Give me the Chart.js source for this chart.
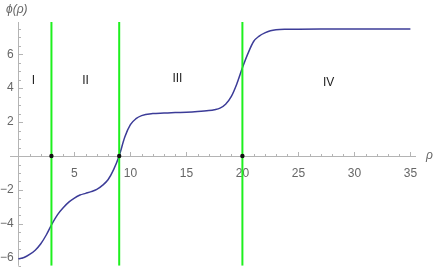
<!DOCTYPE html>
<html>
<head>
<meta charset="utf-8">
<script src="https://cdn.jsdelivr.net/npm/chart.js@4.4.1/dist/chart.umd.min.js"></script>
<style>
  html, body { margin: 0; padding: 0; background: #fff; }
  canvas { display: block; }
</style>
</head>
<body>
<canvas id="chart" width="436" height="276"></canvas>
<script>
// curve phi(rho)
const rho = [0, 0.5, 1, 1.5, 2, 2.5, 3, 3.5, 4, 4.5, 5, 5.5, 6, 6.5, 7, 7.5, 8, 8.5, 9, 9.5,
  10, 10.5, 11, 12, 13, 14, 15, 16, 17, 17.5, 18, 18.5, 19, 19.5, 20, 20.5, 21, 21.5, 22, 22.5,
  23, 24, 25, 27, 30, 35];
const phi = [-6.06, -5.98, -5.8, -5.55, -5.17, -4.64, -4.0, -3.45, -3.05, -2.72, -2.48, -2.3, -2.2, -2.1, -1.97, -1.73, -1.4, -0.8, 0.02, 1.12,
  1.85, 2.2, 2.38, 2.5, 2.53, 2.56, 2.58, 2.62, 2.68, 2.73, 2.82, 3.05, 3.5, 4.25, 5.2, 6.05, 6.75, 7.07, 7.26, 7.38,
  7.44, 7.47, 7.48, 7.49, 7.49, 7.49];

// region boundaries (green lines + black dots on the axis)
const boundaryRho = [2.95, 9, 20];

// region labels
const regionNames = ['I', 'II', 'III', 'IV'];
const regionRho = [1.35, 6.0, 14.2, 27.7];
const regionPhi = [4.45, 4.45, 4.55, 4.3];

// tick labels
const xTicks = [5, 10, 15, 20, 25, 30, 35];
const yTicks = [-6, -4, -2, 2, 4, 6];

const xRange = [-0.75, 35.5];
const yRange = [-6.47, 7.9];

const axisGray = '#b4b4b4';
const labelGray = '#666666';

const decor = {
  id: 'decor',
  beforeDatasetsDraw(chart) {
    const { ctx, scales: { x, y } } = chart;
    const x0 = Math.round(x.getPixelForValue(0)) + 0.5;
    const y0 = Math.round(y.getPixelForValue(0)) + 0.5;
    ctx.save();
    ctx.strokeStyle = axisGray;
    ctx.lineWidth = 1;
    ctx.beginPath();
    ctx.moveTo(x.left, y0); ctx.lineTo(x.right, y0);
    ctx.moveTo(x0, y.top); ctx.lineTo(x0, y.bottom);
    // minor / major tick marks, pointing into the plot
    for (let v = 1; v <= x.max; v += 1) {
      const px = Math.round(x.getPixelForValue(v)) + 0.5;
      const len = v % 5 === 0 ? 4.5 : 2.5;
      ctx.moveTo(px, y0); ctx.lineTo(px, y0 - len);
    }
    for (let v = -6.5; v <= y.max; v += 0.5) {
      if (v === 0) continue;
      const py = Math.round(y.getPixelForValue(v)) + 0.5;
      const len = v % 2 === 0 ? 4.5 : 2.5;
      ctx.moveTo(x0, py); ctx.lineTo(x0 + len, py);
    }
    ctx.stroke();
    ctx.restore();
  },
  afterDraw(chart) {
    const { ctx, scales: { x, y } } = chart;
    ctx.save();
    ctx.fillStyle = '#222';
    ctx.font = '12px "Liberation Sans", Arial, sans-serif';
    ctx.textAlign = 'center';
    ctx.textBaseline = 'middle';
    regionNames.forEach((name, i) => {
      ctx.fillText(name, x.getPixelForValue(regionRho[i]), y.getPixelForValue(regionPhi[i]));
    });
    ctx.fillStyle = labelGray;
    ctx.font = 'italic 12px "Liberation Sans", Arial, sans-serif';
    ctx.textAlign = 'left';
    ctx.fillText('\u03d5(\u03c1)', 6, 10);
    ctx.fillText('\u03c1', x.right + 10, y.getPixelForValue(0));
    ctx.restore();
  }
};

new Chart(document.getElementById('chart'), {
  type: 'scatter',
  data: {
    datasets: [
      {
        data: boundaryRho.map(r => ({ x: r, y: 0 })),
        pointRadius: 2.2,
        pointBackgroundColor: '#111',
        pointBorderWidth: 0,
        showLine: false,
        order: 0
      },
      ...boundaryRho.map(r => ({
        data: [{ x: r, y: yRange[0] }, { x: r, y: yRange[1] }],
        showLine: true,
        borderColor: '#1ef01e',
        borderWidth: 2,
        pointRadius: 0,
        order: 1
      })),
      {
        data: rho.map((r, i) => ({ x: r, y: phi[i] })),
        showLine: true,
        borderColor: '#3c3c98',
        borderWidth: 1.5,
        pointRadius: 0,
        cubicInterpolationMode: 'monotone',
        order: 2
      }
    ]
  },
  options: {
    responsive: false,
    animation: false,
    devicePixelRatio: 1,
    layout: { padding: { left: 10, right: 20, top: 22, bottom: 4 } },
    plugins: { legend: { display: false }, tooltip: { enabled: false } },
    scales: {
      x: {
        type: 'linear',
        min: xRange[0],
        max: xRange[1],
        position: { y: 0 },
        grid: { display: false, drawTicks: false },
        border: { display: false },
        afterBuildTicks: s => { s.ticks = xTicks.map(v => ({ value: v })); },
        ticks: {
          color: labelGray,
          padding: 10,
          font: { family: '"Liberation Sans", Arial, sans-serif', size: 12 },
          maxRotation: 0
        }
      },
      y: {
        type: 'linear',
        min: yRange[0],
        max: yRange[1],
        // labels sit a few pixels left of the axis line (drawn at rho = 0)
        position: { x: -0.42 },
        grid: { display: false, drawTicks: false },
        border: { display: false },
        afterBuildTicks: s => { s.ticks = yTicks.map(v => ({ value: v })); },
        ticks: {
          color: labelGray,
          font: { family: '"Liberation Sans", Arial, sans-serif', size: 12 },
          callback: v => String(v).replace('-', '\u2212')
        }
      }
    }
  },
  plugins: [decor]
});
</script>
</body>
</html>
